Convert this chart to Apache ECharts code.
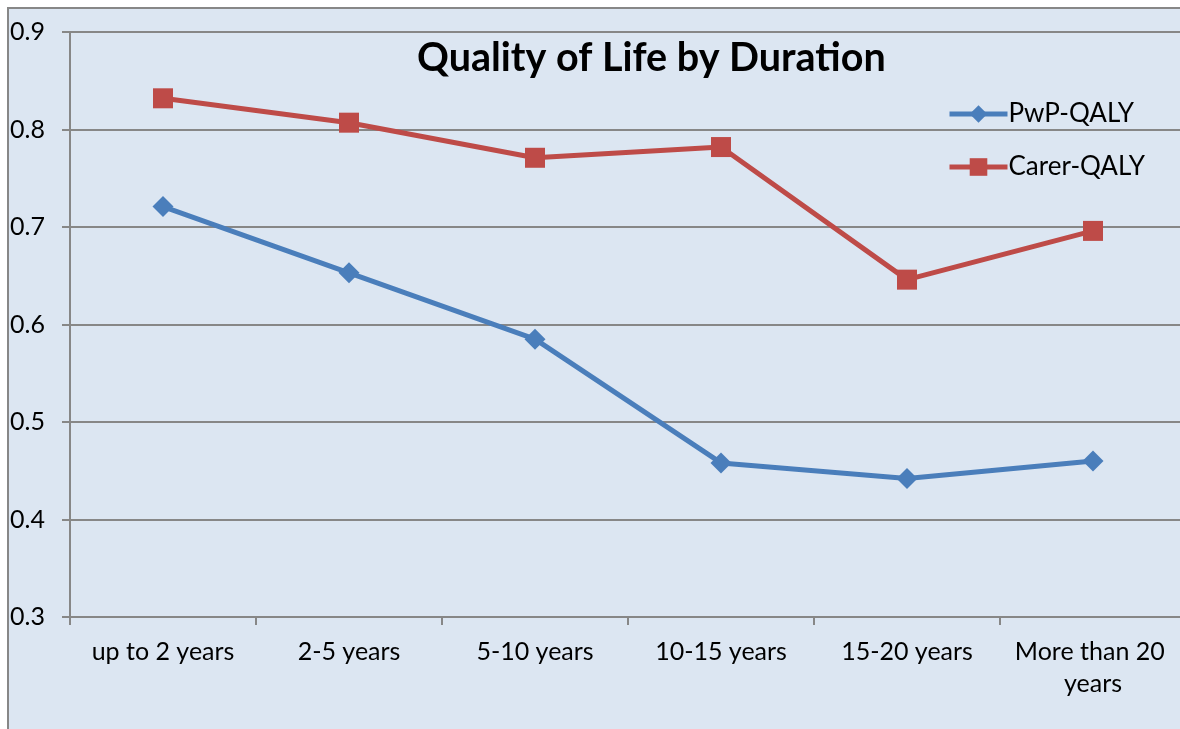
<!DOCTYPE html>
<html>
<head>
<meta charset="utf-8">
<script src="https://cdn.jsdelivr.net/npm/echarts@6/dist/echarts.min.js"></script>
<style>
  html, body { margin: 0; padding: 0; background: #fff; overflow: hidden; }
  #chart { width: 1180px; height: 729px; }
</style>
</head>
<body>
<div id="chart"></div>
<script>
  // categories and series values
  const categories = ['up to 2 years', '2-5 years', '5-10 years', '10-15 years', '15-20 years', 'More than 20 years']
  const pwpQaly = [0.721, 0.653, 0.585, 0.458, 0.442, 0.460]
  const carerQaly = [0.832, 0.807, 0.771, 0.782, 0.646, 0.696]
  const yTicks = { min: 0.3, max: 0.9, interval: 0.1 }

  const font = 'Lato, "Open Sans", sans-serif'
  const gridColor = '#878787'

  const chart = echarts.init(document.getElementById('chart'))
  const option = {
    backgroundColor: '#ffffff',
    textStyle: { fontFamily: font },
    // chart area fill and its left / top border
    graphic: [
      { type: 'rect', z: -10, silent: true, shape: { x: 8, y: 8, width: 1172, height: 721 }, style: { fill: '#dce6f2' } },
      { type: 'line', z: -9, silent: true, shape: { x1: 8, y1: 7, x2: 8, y2: 729 }, style: { stroke: gridColor, lineWidth: 2 } },
      { type: 'line', z: -9, silent: true, shape: { x1: 7, y1: 8, x2: 1180, y2: 8 }, style: { stroke: gridColor, lineWidth: 2 } }
    ],
    title: {
      text: 'Quality of Life by Duration',
      left: 412,
      top: 33,
      textStyle: { fontFamily: font, fontSize: 39.5, fontWeight: 'bold', color: '#000' }
    },
    legend: {
      orient: 'vertical',
      left: 942,
      top: 96,
      itemWidth: 58,
      itemHeight: 22,
      itemGap: 27,
      lineStyle: { width: 5 },
      textStyle: { fontFamily: font, fontSize: 26, color: '#000', padding: [0, 0, 0, -4] },
      data: ['PwP-QALY', 'Carer-QALY']
    },
    grid: { left: 70, top: 32, right: -6, bottom: 112, outerBoundsMode: 'none' },
    xAxis: {
      type: 'category',
      data: categories,
      axisLine: { lineStyle: { color: gridColor, width: 2 } },
      axisTick: { show: true, length: 8, lineStyle: { color: gridColor, width: 2 } },
      splitLine: { show: false },
      axisLabel: {
        fontFamily: font, fontSize: 25, color: '#000', margin: 19,
        width: 178, overflow: 'break', lineHeight: 32, interval: 0
      }
    },
    yAxis: {
      type: 'value',
      min: yTicks.min,
      max: yTicks.max,
      interval: yTicks.interval,
      axisLine: { show: true, lineStyle: { color: gridColor, width: 2 } },
      axisTick: { show: true, length: 8, lineStyle: { color: gridColor, width: 2 } },
      splitLine: { lineStyle: { color: gridColor, width: 2 } },
      axisLabel: {
        fontFamily: font, fontSize: 25, color: '#000', margin: 25,
        formatter: v => v.toFixed(1)
      }
    },
    series: [
      {
        name: 'PwP-QALY',
        type: 'line',
        data: pwpQaly,
        symbol: 'diamond',
        symbolSize: 21,
        color: '#4a7ebb',
        lineStyle: { width: 5 }
      },
      {
        name: 'Carer-QALY',
        type: 'line',
        data: carerQaly,
        symbol: 'rect',
        symbolSize: 20,
        color: '#be4b48',
        lineStyle: { width: 5 }
      }
    ]
  }
  chart.setOption(option)
</script>
</body>
</html>
